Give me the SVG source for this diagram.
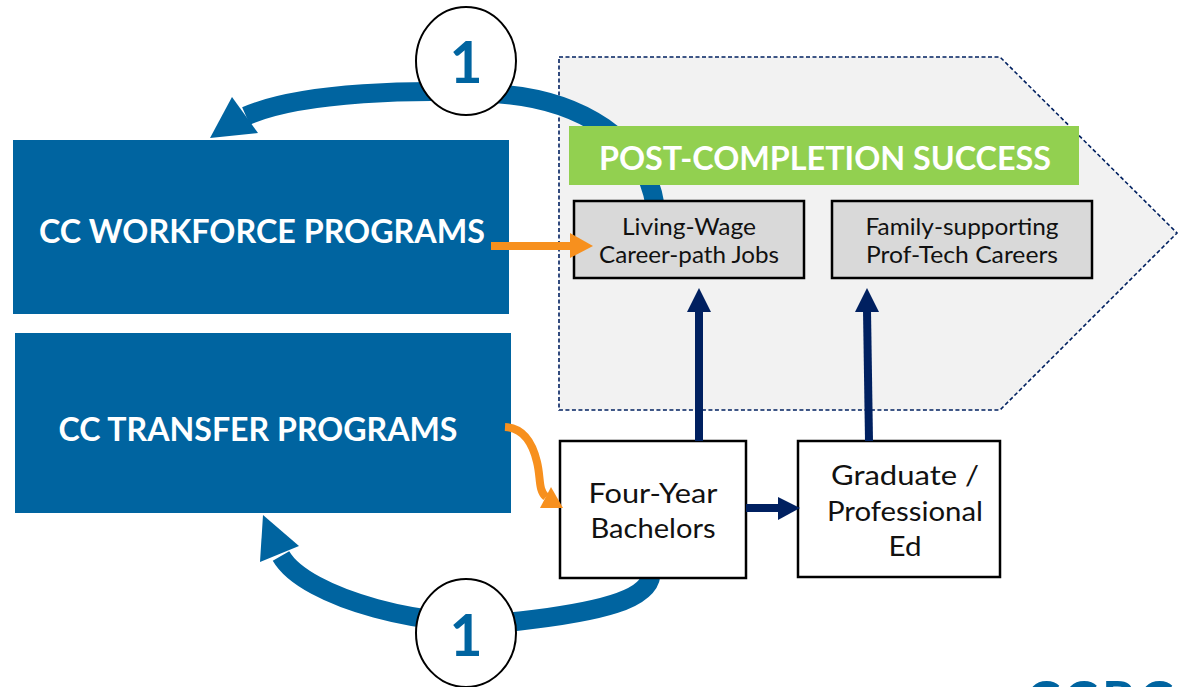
<svg xmlns="http://www.w3.org/2000/svg" width="1182" height="687" viewBox="0 0 1182 687">
<style>
.blue{fill:#0064a0}
.arc{fill:none;stroke:#0064a0;stroke-width:19}
.wt{font-family:Lato,"Liberation Sans",sans-serif;font-weight:700;fill:#ffffff;text-anchor:middle}
.bt{font-family:Lato,"Liberation Sans",sans-serif;fill:#111111;text-anchor:middle}
.gbox{fill:#d9d9d9;stroke:#000;stroke-width:2.5}
.wbox{fill:#ffffff;stroke:#000;stroke-width:2.5}
.org{fill:none;stroke:#f7901e;stroke-width:8}
.orgh{fill:#f7901e}
.nav{fill:none;stroke:#002060;stroke-width:8}
.navh{fill:#002060}
.badge{fill:#ffffff;stroke:#000;stroke-width:2}
.num{font-family:Lato,"Liberation Sans",sans-serif;font-weight:700;font-size:57px;fill:#0064a0;text-anchor:middle}
</style>
<rect width="1182" height="687" fill="#ffffff"/>
<g id="post-completion-area">
<polygon points="559,57 1000,57 1177,233 1000,410 559,410" fill="#f2f2f2" stroke="#002060" stroke-width="1.6" stroke-dasharray="4,2.5"/>
</g>
<g id="connectors-back">
<path class="arc" d="M655,205 C645,140 580,100 500,94 C420,88 300,92 246,116"/>
<polygon class="blue" points="210,138 232,97 258,133"/>
<path class="arc" d="M651,575 C648,600 600,612 520,621 C430,632 305,598 281,556"/>
<polygon class="blue" points="263,515 260,562 299,546"/>
</g>
<g id="banner">
<rect x="569" y="126" width="510" height="59" fill="#92d050"/>
<text class="wt" x="825" y="170" font-size="33" textLength="452" lengthAdjust="spacingAndGlyphs">POST-COMPLETION SUCCESS</text>
</g>
<g id="cc-workforce">
<rect class="blue" x="13" y="140" width="496" height="174"/>
<text class="wt" x="262" y="243" font-size="33" textLength="446" lengthAdjust="spacingAndGlyphs">CC WORKFORCE PROGRAMS</text>
</g>
<g id="cc-transfer">
<rect class="blue" x="15" y="333" width="496" height="180"/>
<text class="wt" x="258" y="441" font-size="33" textLength="399" lengthAdjust="spacingAndGlyphs">CC TRANSFER PROGRAMS</text>
</g>
<g id="living-wage">
<rect class="gbox" x="574" y="201" width="230" height="77"/>
<text class="bt" x="689" y="235" font-size="23" textLength="134" lengthAdjust="spacingAndGlyphs">Living-Wage</text>
<text class="bt" x="689" y="263" font-size="23" textLength="180" lengthAdjust="spacingAndGlyphs">Career-path Jobs</text>
</g>
<g id="family-supporting">
<rect class="gbox" x="832" y="201" width="260" height="77"/>
<text class="bt" x="962" y="235" font-size="23" textLength="193" lengthAdjust="spacingAndGlyphs">Family-supporting</text>
<text class="bt" x="962" y="263" font-size="23" textLength="192" lengthAdjust="spacingAndGlyphs">Prof-Tech Careers</text>
</g>
<g id="four-year">
<rect class="wbox" x="560" y="441" width="186" height="137"/>
<text class="bt" x="653" y="503" font-size="27" textLength="129" lengthAdjust="spacingAndGlyphs">Four-Year</text>
<text class="bt" x="653" y="538" font-size="27" textLength="125" lengthAdjust="spacingAndGlyphs">Bachelors</text>
</g>
<g id="graduate">
<rect class="wbox" x="798" y="441" width="202" height="136"/>
<text class="bt" x="905" y="485" font-size="27" textLength="148" lengthAdjust="spacingAndGlyphs">Graduate /</text>
<text class="bt" x="905" y="521" font-size="27" textLength="156" lengthAdjust="spacingAndGlyphs">Professional</text>
<text class="bt" x="905" y="556" font-size="27" textLength="33" lengthAdjust="spacingAndGlyphs">Ed</text>
</g>
<g id="connectors">
<line class="org" x1="491" y1="246" x2="572" y2="246"/>
<polygon class="orgh" points="570,233 593,246 570,258"/>
<path class="org" d="M505,427 C525,428 533,445 537,462 C541,478 538,490 546,497"/>
<polygon class="orgh" points="540,508 551,487 563,508"/>
<line class="nav" x1="699" y1="441" x2="699" y2="310"/>
<polygon class="navh" points="687,312 699,288 711,312"/>
<line class="nav" x1="869" y1="441" x2="867" y2="310"/>
<polygon class="navh" points="855,312 867,288 879,312"/>
<line class="nav" x1="746" y1="508" x2="780" y2="508"/>
<polygon class="navh" points="778,497 800,508 778,520"/>
</g>
<g id="badge-top">
<ellipse class="badge" cx="466" cy="61" rx="50" ry="54"/>
<text class="num" x="466" y="83">1</text>
</g>
<g id="badge-bottom">
<ellipse class="badge" cx="466" cy="633" rx="50" ry="54"/>
<text class="num" x="466" y="656">1</text>
</g>
<g id="logo">
<text x="1026" y="718" font-family="Lato,'Liberation Sans',sans-serif" font-weight="700" font-size="52" fill="#0064a0" letter-spacing="4">CCRC</text>
</g>
</svg>
